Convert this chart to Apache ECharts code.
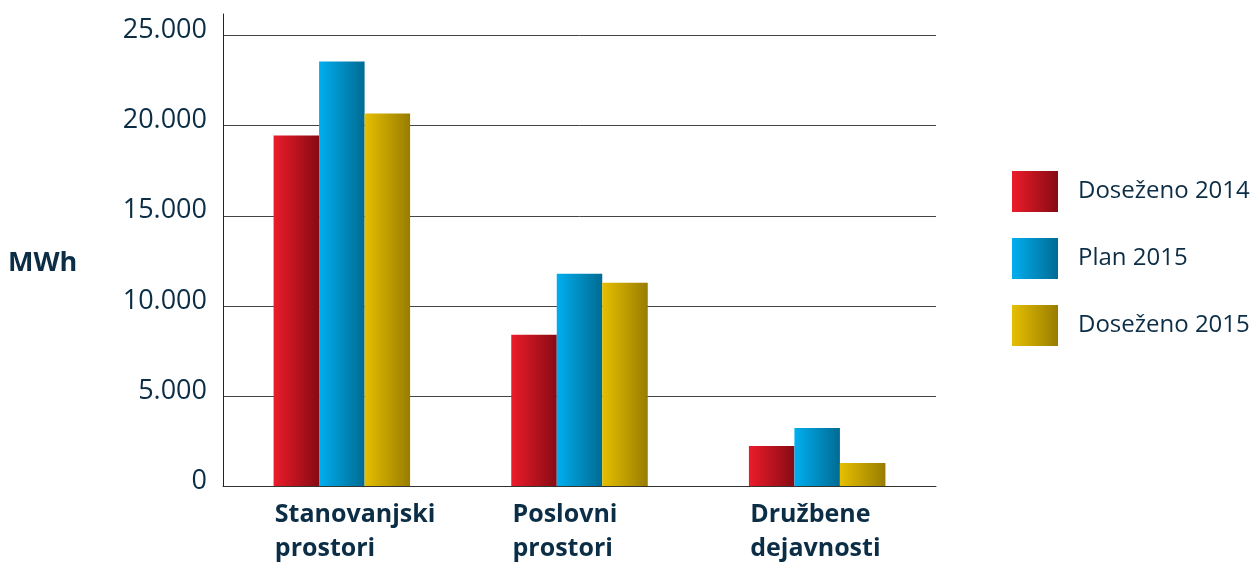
<!DOCTYPE html>
<html>
<head>
<meta charset="utf-8">
<style>html,body{margin:0;padding:0;background:#fff}#c{width:1259px;height:562px}</style>
<script src="https://cdn.jsdelivr.net/npm/echarts@6/dist/echarts.min.js"></script>
</head>
<body>
<div id="c"></div>
<script>
var categories = ['Stanovanjski\nprostori', 'Poslovni\nprostori', 'Družbene\ndejavnosti'];
var seriesNames = ['Doseženo 2014', 'Plan 2015', 'Doseženo 2015'];
var dosezeno2014 = [19450, 8390, 2220];
var plan2015 = [23560, 11780, 3220];
var dosezeno2015 = [20670, 11280, 1280];
var yTicks = [0, 5000, 10000, 15000, 20000, 25000];
var unitLabel = 'MWh';

var textColor = '#0b2d45';
var font = 'Open Sans';
function grad(a, b) {
  return new echarts.graphic.LinearGradient(0, 0, 1, 0, [{offset: 0, color: a}, {offset: 1, color: b}]);
}
var colors = [grad('#ec1c2a', '#860b13'), grad('#00aeef', '#006b93'), grad('#e6bf00', '#987c00')];
var dataSets = [dosezeno2014, plan2015, dosezeno2015];

function fmt(v) {
  return String(v).replace(/\B(?=(\d{3})+(?!\d))/g, '.');
}

var chart = echarts.init(document.getElementById('c'), null, {renderer: 'canvas'});
chart.setOption({
  animation: false,
  title: {
    text: unitLabel, left: 8, top: 250, padding: 0,
    textStyle: {fontFamily: font, fontSize: 27, fontWeight: 'bold', color: textColor}
  },
  legend: {
    orient: 'vertical', left: 1012, top: 171, padding: 0,
    itemWidth: 46, itemHeight: 41, itemGap: 26, icon: 'rect',
    textStyle: {fontFamily: font, fontSize: 24, color: textColor, padding: [0, 0, 0, 15]},
    data: seriesNames
  },
  grid: {left: 223, right: 323, top: 14, bottom: 76, containLabel: false},
  xAxis: {
    type: 'category', data: categories,
    axisLine: {lineStyle: {color: '#333', width: 1}},
    axisTick: {show: false},
    axisLabel: {
      interval: 0, margin: 12,
      formatter: function (v) {
        return v.split('\n').map(function (s) { return '{a|' + s + '}'; }).join('\n');
      },
      rich: {a: {fontFamily: font, fontSize: 25, fontWeight: 'bold', color: textColor, align: 'left', width: 136, lineHeight: 34, padding: [0, 0, 0, 2]}}
    }
  },
  yAxis: {
    type: 'value', min: 0, max: 26200, interval: 5000,
    axisLine: {show: true, lineStyle: {color: '#222', width: 1}},
    axisTick: {show: false},
    splitLine: {show: true, showMaxLine: false, lineStyle: {color: '#444', width: 1}},
    axisLabel: {
      showMaxLabel: false, margin: 16,
      fontFamily: font, fontSize: 27, color: textColor,
      verticalAlign: 'bottom', lineHeight: 30, padding: [0, 0, -10, 0],
      formatter: function (v) { return yTicks.indexOf(v) >= 0 ? fmt(v) : ''; }
    }
  },
  series: seriesNames.map(function (n, i) {
    return {
      name: n, type: 'bar', data: dataSets[i],
      barWidth: 45.5, barGap: '0%',
      itemStyle: {color: colors[i]}
    };
  })
});
</script>
</body>
</html>
